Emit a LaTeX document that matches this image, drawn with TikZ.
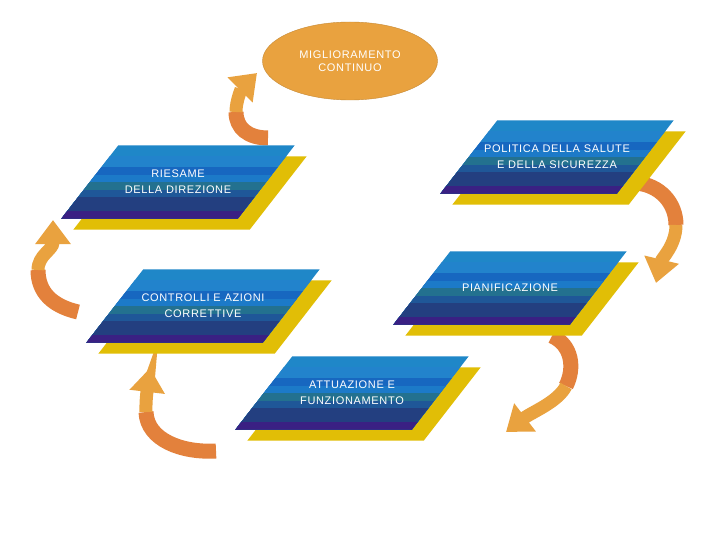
\documentclass[tikz,border=0pt]{standalone}
\usepackage{fontspec}
\setmainfont{Liberation Sans}[LetterSpace=6]
\usetikzlibrary{arrows.meta,backgrounds,calc,positioning,shapes.geometric}

\definecolor{giallo}{HTML}{E1BE06}
\definecolor{arancio}{HTML}{E9A23F}
\definecolor{aranciosc}{HTML}{E3813C}
\definecolor{blua}{HTML}{1F87C8}
\definecolor{blub}{HTML}{2283CC}
\definecolor{bluc}{HTML}{1767C0}
\definecolor{blud}{HTML}{1C7AC8}
\definecolor{blue}{HTML}{23718F}
\definecolor{bluf}{HTML}{1F5798}
\definecolor{blug}{HTML}{233F80}
\definecolor{bluh}{HTML}{3A2083}

\pgfdeclarelayer{frecce}
\pgfsetlayers{frecce,background,main}

\begin{document}
\begin{tikzpicture}[x=1pt,y=-1pt]
\tikzstyle{ovale} = [ellipse, fill=arancio, draw=arancio!85!black, minimum width=175pt, minimum height=78pt, text=white, align=center, font=\fontsize{11}{12.5}\selectfont]
\tikzstyle{fase} = [rectangle, minimum width=176pt, minimum height=73pt, text=white, align=center, font=\fontsize{11}{16}\selectfont]
\tikzstyle{coda} = [line width=15pt, aranciosc]
\tikzstyle{punta} = [line width=13pt, arancio, -{Triangle[width=34pt,length=24pt]}]

\useasboundingbox (0,0) rectangle (720,540);

\node [ovale] (miglioramento) at (350,61) {MIGLIORAMENTO\\CONTINUO};

\node [fase] (riesame) at (178,182) {RIESAME\\DELLA DIREZIONE};
\node [fase] (politica) at (557,157) {POLITICA DELLA SALUTE\\E DELLA SICUREZZA};
\node [fase] (pianificazione) at (510,288) {PIANIFICAZIONE};
\node [fase] (controlli) at (203,306) {CONTROLLI E AZIONI\\CORRETTIVE};
\node [fase] (attuazione) at (352,393) {ATTUAZIONE E\\FUNZIONAMENTO};

% parallelogrammi a strisce con ombra gialla
\begin{scope}[on background layer]
\foreach \nome in {riesame,politica,pianificazione,controlli,attuazione} {
  \fill [giallo] ([shift={(40.5,11)}]\nome.north west) -- ([shift={(40.5,11)}]\nome.north east)
    -- ([shift={(-16.5,11)}]\nome.south east) -- ([shift={(-16.5,11)}]\nome.south west) -- cycle;
  \begin{scope}
  \clip ([xshift=28.5pt]\nome.north west) -- ([xshift=28.5pt]\nome.north east)
    -- ([xshift=-28.5pt]\nome.south east) -- ([xshift=-28.5pt]\nome.south west) -- cycle;
  \foreach \c/\a in {blua/0,blub/.14,bluc/.30,blud/.41,blue/.50,bluf/.61,blug/.70,bluh/.89}
    \fill [\c] ([xshift=-40pt]$(\nome.north west)!\a!(\nome.south west)$) rectangle ([xshift=40pt]\nome.south east);
  \end{scope}
}
\end{scope}

% frecce curve
\begin{pgfonlayer}{frecce}
\fill [white] (0,0) rectangle (720,540);

\coordinate (c1) at (268,138); \coordinate (m1) at (236,112); \coordinate (p1) at (257,73);
\draw [coda] (c1) .. controls (248,138) and (236,128) .. (m1);
\draw [punta] (m1) .. controls (236,100) and (242,88) .. (p1);

\coordinate (c2) at (636,183); \coordinate (m2) at (676,225); \coordinate (p2) at (656,283);
\draw [coda] (c2) .. controls (660,185) and (676,203) .. (m2);
\draw [punta] (m2) .. controls (676,245) and (662,258) .. (p2);

\coordinate (c3) at (552,336); \coordinate (m3) at (566,386); \coordinate (p3) at (506,432);
\draw [coda] (c3) .. controls (572,345) and (575,368) .. (m3);
\draw [punta] (m3) .. controls (558,402) and (532,412) .. (p3);

\coordinate (c4) at (216,451); \coordinate (m4) at (146,412); \coordinate (p4) at (150,368);
\draw [coda] (c4) .. controls (182,453) and (147,440) .. (m4);
\draw [punta] (m4) .. controls (145.5,398) and (148,385) .. (p4);

\coordinate (c5) at (78,312); \coordinate (m5) at (38,270); \coordinate (p5) at (53,220);
\draw [coda] (c5) .. controls (52,306) and (38,292) .. (m5);
\draw [punta] (m5) .. controls (38,255) and (53,250) .. (p5);
\end{pgfonlayer}
\end{tikzpicture}
\end{document}
